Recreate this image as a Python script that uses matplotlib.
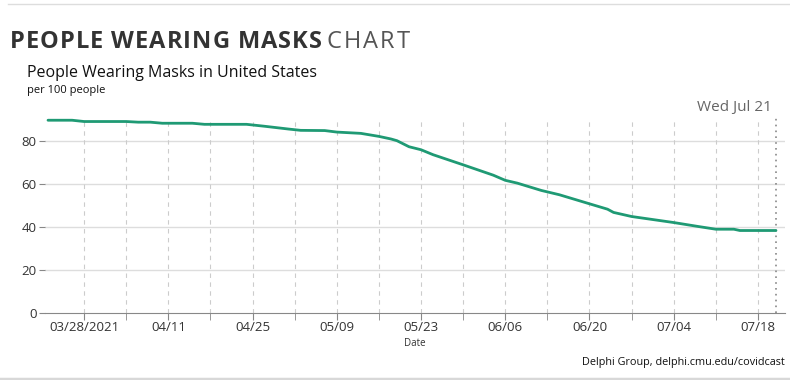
import numpy as np
import pandas as pd
import matplotlib
matplotlib.use("Agg")
import matplotlib.pyplot as plt
from matplotlib.lines import Line2D

plt.rcParams['font.family'] = ['Open Sans', 'DejaVu Sans']

# values
dates = ['2021-03-22', '2021-03-26', '2021-03-28', '2021-04-04', '2021-04-06',
         '2021-04-08', '2021-04-10', '2021-04-15', '2021-04-17', '2021-04-24',
         '2021-04-27', '2021-05-01', '2021-05-03', '2021-05-07', '2021-05-09',
         '2021-05-11', '2021-05-13', '2021-05-16', '2021-05-18', '2021-05-19',
         '2021-05-21', '2021-05-23', '2021-05-25', '2021-05-30', '2021-06-04',
         '2021-06-06', '2021-06-08', '2021-06-12', '2021-06-15', '2021-06-20',
         '2021-06-23', '2021-06-24', '2021-06-27', '2021-07-04', '2021-07-08',
         '2021-07-11', '2021-07-14', '2021-07-15', '2021-07-21']
masks = [89.5, 89.5, 88.9, 88.9, 88.6,
         88.6, 88.1, 88.1, 87.6, 87.6,
         86.7, 85.4, 84.8, 84.7, 84.0,
         83.7, 83.4, 82.0, 80.8, 80.0,
         77.2, 75.8, 73.5, 68.8, 64.0,
         61.6, 60.3, 56.9, 54.9, 50.7,
         48.2, 46.7, 44.8, 42.0, 40.2,
         38.9, 38.9, 38.3, 38.3]
y_ticks = [0, 20, 40, 60, 80]
current_day = '2021-07-21'

x = pd.to_datetime(dates)
today = pd.Timestamp(current_day)

fig = plt.figure(figsize=(7.9, 3.8), dpi=100)
ax = fig.add_axes([45 / 790, 67 / 380, 740 / 790, 196 / 380])
renderer = fig.canvas.get_renderer()


def spaced_text(x0, y0, s, spacing, **kw):
    # draw text char by char with extra letter spacing (pixels)
    xp = x0
    for ch in s:
        if ch == ' ':
            xp += kw['fontsize'] * 100 / 72 * 0.26 + spacing
            continue
        t = fig.text(xp / 790, 1 - y0 / 380, ch, va='center', **kw)
        xp += t.get_window_extent(renderer).width + spacing
    return xp


ax.plot(x, masks, color='#1f9a74', lw=2, solid_capstyle='round', zorder=3)

ax.set_xlim(x[0] - pd.Timedelta(hours=12), today + pd.Timedelta(hours=36))
ax.set_ylim(0, 91)

# y axis
ax.set_yticks(y_ticks)
ax.tick_params(axis='y', length=4, color='#888888', labelcolor='#333333',
               labelsize=9.5, pad=2)
for v in y_ticks[1:]:
    ax.axhline(v, color='#dddddd', lw=1, zorder=1)

# x axis: ticks every 7 days, labels every 14
ticks = pd.date_range('2021-03-28', '2021-07-18', freq='14D')
minor = pd.date_range('2021-04-04', '2021-07-18', freq='14D')
ax.set_xticks(ticks)
ax.set_xticks(minor, minor=True)
labels = [d.strftime('%m/%d') for d in ticks]
labels[0] = ticks[0].strftime('%m/%d/%Y')
ax.set_xticklabels(labels)
ax.tick_params(axis='x', which='both', length=5, color='#888888',
               labelcolor='#333333', labelsize=9.5, pad=1)
for d in list(ticks) + list(minor):
    ax.plot([d, d], [0, 89.5], color='#cccccc', lw=0.8, ls=(0, (4, 4)), zorder=1)

ax.axvline(today, ymax=1.0, color='#888888', lw=1.2, ls=(0, (1, 2.5)), zorder=2)
ax.text(today - pd.Timedelta(hours=18), 92, 'Wed Jul 21', ha='right', va='bottom',
        fontsize=11, color='#666666')

for s in ['top', 'right', 'left']:
    ax.spines[s].set_visible(False)
ax.spines['bottom'].set_color('#888888')
ax.set_xlabel('Date', fontsize=7, color='#333333', labelpad=3)

# titles and notes
spaced_text(10, 42, 'PEOPLE WEARING MASKS', 1.0, fontsize=17,
            fontweight='bold', color='#333333')
spaced_text(327, 42, 'CHART', 2.0, fontsize=17, color='#555555')
fig.text(27 / 790, 1 - 73 / 380, 'People Wearing Masks in United States',
         fontsize=11.5, color='#111111', va='center')
fig.text(27 / 790, 1 - 91 / 380, 'per 100 people', fontsize=8, color='#111111',
         va='center')
fig.text(785 / 790, 1 - 362 / 380, 'Delphi Group, delphi.cmu.edu/covidcast',
         fontsize=7.8, color='#111111', ha='right', va='center')

fig.add_artist(Line2D([8 / 790, 1], [1 - 4 / 380, 1 - 4 / 380],
                      transform=fig.transFigure, color='#dddddd', lw=1))
fig.add_artist(Line2D([0, 1], [1 / 380, 1 / 380],
                      transform=fig.transFigure, color='#d8d8d8', lw=2.5))

fig.savefig('out.png', dpi=100)
